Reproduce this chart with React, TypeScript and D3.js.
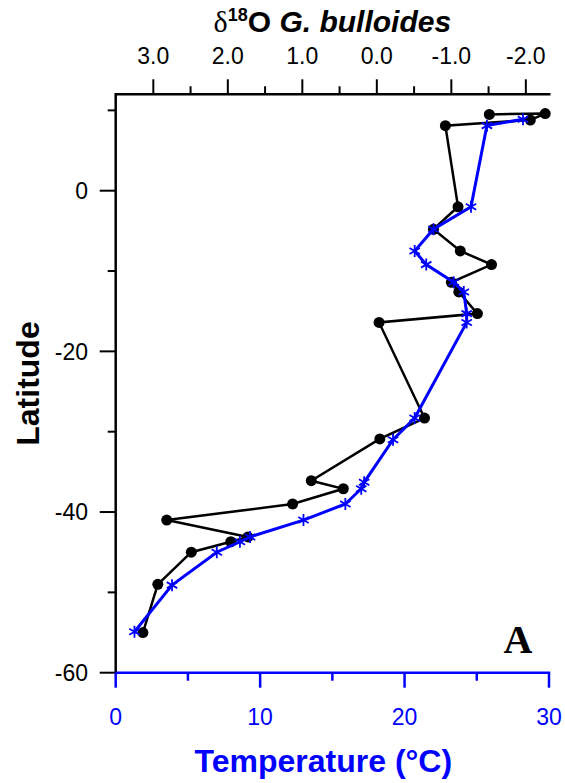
import React from "react";
import * as d3 from "d3";

// ---- data ----
const latD18O = [9.5, 9.6, 8.8, 8.1, -2.0, -4.8, -7.5, -9.2, -11.4, -12.6, -15.3, -16.4, -28.3, -30.9, -36.1, -37.1, -39.0, -41.0, -43.1, -43.7, -45.0, -49.0, -55.0];
const d18O = [-1.51, -2.26, -2.06, -0.92, -1.09, -0.76, -1.12, -1.54, -1.0, -1.1, -1.35, -0.03, -0.64, -0.04, 0.88, 0.45, 1.13, 2.82, 1.73, 1.96, 2.49, 2.94, 3.14];
const latTemp = [8.9, 8.1, -2.0, -4.8, -7.5, -9.2, -11.4, -12.6, -15.3, -16.4, -28.3, -31.0, -36.3, -37.1, -39.0, -41.0, -43.1, -43.7, -45.0, -49.1, -54.9];
const temperature = [28.2, 25.7, 24.6, 22.0, 20.7, 21.5, 23.4, 24.1, 24.3, 24.3, 20.7, 19.2, 17.2, 17.0, 15.9, 13.0, 9.3, 8.6, 7.0, 3.9, 1.3];

const tempTicks = [0, 5, 10, 15, 20, 25, 30];
const tempLabels = [0, 10, 20, 30];
const d18OTicks = [3.0, 2.5, 2.0, 1.5, 1.0, 0.5, 0.0, -0.5, -1.0, -1.5, -2.0];
const d18OLabels = [3.0, 2.0, 1.0, 0.0, -1.0, -2.0];
const latTicks = [-60, -50, -40, -30, -20, -10, 0, 10];
const latLabels = [-60, -40, -20, 0];

const W = 565, H = 783;
const L = 115.7, R = 549, T = 94.3, B = 672.7;
const BLUE = "#0000ff";

export default function App() {
  const xT = d3.scaleLinear().domain([0, 30]).range([L, R]);
  const xD = d3.scaleLinear().domain([3.505, -2.311]).range([L, R]);
  const y = d3.scaleLinear().domain([-60, 12]).range([B, T]);

  const blackPts = d18O.map((v, i) => [xD(v), y(latD18O[i])] as [number, number]);
  const bluePts = temperature.map((v, i) => [xT(v), y(latTemp[i])] as [number, number]);
  const line = d3.line<[number, number]>();

  const star = (cx: number, cy: number, r: number) => {
    let d = "";
    [90, 30, 150].forEach((a) => {
      const rad = (a * Math.PI) / 180;
      const dx = r * Math.cos(rad), dy = r * Math.sin(rad);
      d += `M${cx - dx},${cy - dy}L${cx + dx},${cy + dy}`;
    });
    return d;
  };

  const fmt = d3.format(".1f");

  return (
    <svg width={W} height={H} style={{ position: "absolute", left: 0, top: 0, background: "#fff" }}
      fontFamily="'Liberation Sans', Arial, sans-serif">
      {/* top axis */}
      <line x1={L} x2={R + 1.5} y1={T} y2={T} stroke="#000" strokeWidth={2.5} />
      {d18OTicks.map((t) => {
        const major = d18OLabels.includes(t);
        return <line key={"dt" + t} x1={xD(t)} x2={xD(t)} y1={T} y2={T - (major ? 15 : 8)} stroke="#000" strokeWidth={2} />;
      })}
      {d18OLabels.map((t) => (
        <text key={"dl" + t} x={xD(t)} y={64} textAnchor="middle" fontSize={23} fill="#000">{fmt(t).replace("−", "-")}</text>
      ))}
      <text x={(L + R) / 2} y={32} textAnchor="middle" fontSize={30} fontWeight="bold" fill="#000">
        <tspan fontFamily="'Liberation Serif', serif" fontWeight="normal">δ</tspan>
        <tspan fontSize={18} dy={-11}>18</tspan>
        <tspan dy={11}>O </tspan>
        <tspan fontStyle="italic">G. bulloides</tspan>
      </text>

      {/* left axis */}
      <line x1={L} x2={L} y1={T - 1.2} y2={B} stroke="#000" strokeWidth={2.5} />
      {latTicks.map((t) => {
        const major = latLabels.includes(t);
        return <line key={"lt" + t} x1={L} x2={L - (major ? 16 : 8)} y1={y(t)} y2={y(t)} stroke="#000" strokeWidth={2} />;
      })}
      {latLabels.map((t) => (
        <text key={"ll" + t} x={88} y={y(t)} dy="0.36em" textAnchor="end" fontSize={23} fill="#000">{String(t)}</text>
      ))}
      <text transform={`translate(39,${(T + B) / 2}) rotate(-90)`} textAnchor="middle" fontSize={32} fontWeight="bold" fill="#000">Latitude</text>

      {/* bottom axis */}
      {tempTicks.map((t) => {
        const major = tempLabels.includes(t);
        return <line key={"tt" + t} x1={xT(t)} x2={xT(t)} y1={B} y2={B + (major ? 15 : 8)} stroke={BLUE} strokeWidth={2.5} />;
      })}
      <line x1={L} x2={R + 1.2} y1={B} y2={B} stroke={BLUE} strokeWidth={2.5} />
      {tempLabels.map((t) => (
        <text key={"tl" + t} x={xT(t)} y={725} textAnchor="middle" fontSize={23} fill={BLUE}>{String(t)}</text>
      ))}
      <text x={(L + R) / 2 - 9} y={772} textAnchor="middle" fontSize={32} fontWeight="bold" fill={BLUE}>Temperature (°C)</text>

      {/* series */}
      <path d={line(blackPts) || ""} fill="none" stroke="#000" strokeWidth={2.5} />
      {blackPts.map((p, i) => (
        <circle key={"b" + i} cx={p[0]} cy={p[1]} r={5.5} fill="#000" />
      ))}
      <path d={line(bluePts) || ""} fill="none" stroke={BLUE} strokeWidth={3} />
      {bluePts.map((p, i) => (
        <path key={"s" + i} d={star(p[0], p[1], 6)} stroke={BLUE} strokeWidth={1.8} fill="none" />
      ))}

      <text x={518} y={653} textAnchor="middle" fontSize={40} fontWeight="bold" fontFamily="'Liberation Serif', 'Times New Roman', serif" fill="#000">A</text>
    </svg>
  );
}
